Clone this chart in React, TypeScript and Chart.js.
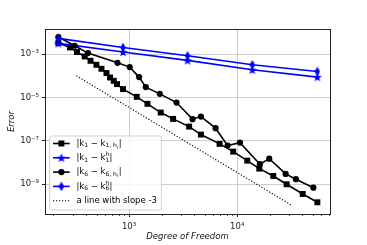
import React, { useEffect, useRef } from 'react';
import { Chart, registerables } from 'chart.js';

Chart.register(...registerables);

// ---------- data ----------
const dofK1 = [222, 284, 330, 389, 440, 499, 556, 618, 667, 722, 774, 880, 1178, 1479, 1963, 2553, 3594, 4616, 6870, 9180, 12380, 16000, 21550, 28630, 40330, 55100];
const errK1 = [3.22e-3, 2.02e-3, 1.24e-3, 7.75e-4, 4.91e-4, 3.21e-4, 2.1e-4, 1.33e-4, 8.32e-5, 5.86e-5, 4.13e-5, 2.43e-5, 1.07e-5, 5.09e-6, 2.02e-6, 1.03e-6, 4.56e-7, 1.95e-7, 7.26e-8, 3.2e-8, 1.23e-8, 5.26e-9, 2.42e-9, 1.0e-9, 3.57e-10, 1.48e-10];

const dofK6 = [222, 314, 417, 781, 1014, 1238, 1428, 1923, 2746, 3862, 4616, 6310, 8150, 10600, 16220, 19780, 28050, 34900, 50600];
const errK6 = [6.09e-3, 2.42e-3, 1.11e-3, 3.97e-4, 2.51e-4, 8.69e-5, 3.0e-5, 1.47e-5, 5.84e-6, 1.0e-6, 1.32e-6, 3.85e-7, 6.05e-8, 8.33e-8, 8.4e-9, 1.52e-8, 2.99e-9, 1.71e-9, 6.98e-10];

const dofH = [222, 880, 3470, 13800, 55100];
const errK1H = [3.1e-3, 1.24e-3, 5.1e-4, 1.88e-4, 8.7e-5];
const errK6H = [5.3e-3, 2.0e-3, 8.3e-4, 3.2e-4, 1.58e-4];

const slopeDof = [326, 31900];
const slopeErr = [1.0e-4, 1.07e-10];

const xMajorTicks = [1000, 10000];
const xTickLabels = ['10³', '10⁴'];
const xMinorTicks = [200, 300, 400, 500, 600, 700, 800, 900, 2000, 3000, 4000, 5000, 6000, 7000, 8000, 9000, 20000, 30000, 40000, 50000, 60000, 70000];
const yMajorTicks = [1e-3, 1e-5, 1e-7, 1e-9];
const yTickLabels = ['10⁻³', '10⁻⁵', '10⁻⁷', '10⁻⁹'];

const xMin = 167;
const xMax = 72100;
const yMin = 4.27e-11;
const yMax = 1.43e-2;

type Seg = [string, string];
const legendLabels: Seg[][] = [
  [['|k', 'n'], ['1', 'b'], [' − k', 'n'], ['1, h', 'b'], ['i', 'bb'], ['|', 'n']],
  [['|k', 'n'], ['1', 'b'], [' − k', 'n'], ['h|1', 'ps'], ['|', 'n']],
  [['|k', 'n'], ['6', 'b'], [' − k', 'n'], ['6, h', 'b'], ['i', 'bb'], ['|', 'n']],
  [['|k', 'n'], ['6', 'b'], [' − k', 'n'], ['h|6', 'ps'], ['|', 'n']],
  [['a line with slope -3', 'n']],
];

const FONT = '"DejaVu Sans", sans-serif';
const BLUE = '#0000ff';

function makeStar(color: string) {
  const c = document.createElement('canvas');
  c.width = 10; c.height = 10;
  const g = c.getContext('2d')!;
  g.fillStyle = color;
  g.beginPath();
  for (let i = 0; i < 10; i++) {
    const r = i % 2 === 0 ? 4.8 : 2.0;
    const a = -Math.PI / 2 + (i * Math.PI) / 5;
    const px = 5 + r * Math.cos(a);
    const py = 5.4 + r * Math.sin(a);
    if (i === 0) g.moveTo(px, py); else g.lineTo(px, py);
  }
  g.closePath();
  g.fill();
  return c;
}

function makeThinDiamond(color: string) {
  const c = document.createElement('canvas');
  c.width = 6; c.height = 10;
  const g = c.getContext('2d')!;
  g.fillStyle = color;
  g.beginPath();
  g.moveTo(3, 0.2);
  g.lineTo(5.8, 5);
  g.lineTo(3, 9.8);
  g.lineTo(0.2, 5);
  g.closePath();
  g.fill();
  return c;
}

function drawMath(ctx: CanvasRenderingContext2D, segs: Seg[], x: number, y: number) {
  const base = 8.5;
  const small = 6;
  const tiny = 4.6;
  ctx.fillStyle = '#000';
  ctx.textBaseline = 'middle';
  ctx.textAlign = 'left';
  let cx = x;
  for (const [t, k] of segs) {
    if (k === 'n') {
      ctx.font = `${base}px ${FONT}`;
      ctx.fillText(t, cx, y);
      cx += ctx.measureText(t).width;
    } else if (k === 'b') {
      ctx.font = `${small}px ${FONT}`;
      ctx.fillText(t, cx, y + 2.4);
      cx += ctx.measureText(t).width;
    } else if (k === 'bb') {
      ctx.font = `italic ${tiny}px ${FONT}`;
      ctx.fillText(t, cx, y + 4.0);
      cx += ctx.measureText(t).width + 0.5;
    } else if (k === 'ps') {
      const [sup, sub] = t.split('|');
      ctx.font = `italic ${small}px ${FONT}`;
      ctx.fillText(sup, cx, y - 3.2);
      const w1 = ctx.measureText(sup).width;
      ctx.font = `${small}px ${FONT}`;
      ctx.fillText(sub, cx, y + 2.4);
      const w2 = ctx.measureText(sub).width;
      cx += Math.max(w1, w2) + 0.3;
    }
  }
}

export default function App() {
  const ref = useRef<HTMLCanvasElement | null>(null);

  useEffect(() => {
    const canvas = ref.current;
    if (!canvas) return;
    const star = makeStar(BLUE);
    const diamond = makeThinDiamond(BLUE);

    const frame = {
      id: 'mplFrame',
      afterDatasetsDraw(chart: any) {
        const { ctx, chartArea: a } = chart;
        const lx = a.left + 4.7;
        const lb = a.bottom - 4;
        const lw = 111.7;
        const lh = 74;
        const ly = lb - lh;
        ctx.save();
        ctx.beginPath();
        const r = 2;
        ctx.moveTo(lx + r, ly);
        ctx.arcTo(lx + lw, ly, lx + lw, ly + lh, r);
        ctx.arcTo(lx + lw, ly + lh, lx, ly + lh, r);
        ctx.arcTo(lx, ly + lh, lx, ly, r);
        ctx.arcTo(lx, ly, lx + lw, ly, r);
        ctx.closePath();
        ctx.fillStyle = 'rgba(255,255,255,0.8)';
        ctx.fill();
        ctx.strokeStyle = 'rgba(204,204,204,0.9)';
        ctx.lineWidth = 1;
        ctx.stroke();

        const ds = chart.data.datasets;
        for (let i = 0; i < legendLabels.length; i++) {
          const ry = ly + 7.5 + i * 14.3;
          const d = ds[i];
          ctx.save();
          ctx.strokeStyle = d.borderColor;
          ctx.lineWidth = d.borderWidth;
          if (d.borderDash) ctx.setLineDash(d.borderDash);
          ctx.beginPath();
          ctx.moveTo(lx + 3.3, ry);
          ctx.lineTo(lx + 20, ry);
          ctx.stroke();
          ctx.restore();
          const mx = lx + 11.7;
          ctx.fillStyle = d.pointBackgroundColor || d.borderColor;
          if (d.pointStyle === 'rect') {
            const s = d.pointRadius * Math.SQRT1_2;
            ctx.fillRect(mx - s, ry - s, 2 * s, 2 * s);
          } else if (d.pointStyle === 'circle') {
            ctx.beginPath();
            ctx.arc(mx, ry, d.pointRadius, 0, Math.PI * 2);
            ctx.fill();
          } else if (d.pointStyle && typeof d.pointStyle === 'object') {
            const img = d.pointStyle as HTMLCanvasElement;
            ctx.drawImage(img, mx - img.width / 2, ry - img.height / 2);
          }
          drawMath(ctx, legendLabels[i], lx + 26.7, ry);
        }
        ctx.restore();
      },
      afterDraw(chart: any) {
        const { ctx, chartArea: a } = chart;
        const xs = chart.scales.x;
        ctx.save();
        ctx.strokeStyle = '#222';
        ctx.lineWidth = 0.8;
        for (const v of xMinorTicks) {
          const px = Math.round(xs.getPixelForValue(v)) + 0.5;
          ctx.beginPath();
          ctx.moveTo(px, a.bottom);
          ctx.lineTo(px, a.bottom + 2);
          ctx.stroke();
        }
        ctx.strokeStyle = '#262626';
        ctx.lineWidth = 1;
        ctx.strokeRect(Math.round(a.left) + 0.5, Math.round(a.top) + 0.5, Math.round(a.right - a.left), Math.round(a.bottom - a.top));
        ctx.restore();
      },
    };

    const toXY = (xs: number[], ys: number[]) => xs.map((x, i) => ({ x, y: ys[i] }));

    const chart = new Chart(canvas, {
      type: 'line',
      data: {
        datasets: [
          {
            label: 'k1',
            data: toXY(dofK1, errK1),
            borderColor: '#000',
            backgroundColor: '#000',
            pointBackgroundColor: '#000',
            pointBorderColor: '#000',
            borderWidth: 1.6,
            pointStyle: 'rect',
            pointRadius: 4.2,
            pointBorderWidth: 0,
            order: 5,
          },
          {
            label: 'k1h',
            data: toXY(dofH, errK1H),
            borderColor: BLUE,
            backgroundColor: BLUE,
            borderWidth: 1.6,
            pointStyle: star as any,
            pointRadius: 4,
            order: 4,
          },
          {
            label: 'k6',
            data: toXY(dofK6, errK6),
            borderColor: '#000',
            backgroundColor: '#000',
            pointBackgroundColor: '#000',
            pointBorderColor: '#000',
            borderWidth: 1.6,
            pointStyle: 'circle',
            pointRadius: 3.1,
            pointBorderWidth: 0,
            order: 3,
          },
          {
            label: 'k6h',
            data: toXY(dofH, errK6H),
            borderColor: BLUE,
            backgroundColor: BLUE,
            borderWidth: 1.6,
            pointStyle: diamond as any,
            pointRadius: 4,
            order: 2,
          },
          {
            label: 'slope',
            data: toXY(slopeDof, slopeErr),
            borderColor: '#000',
            backgroundColor: '#000',
            borderWidth: 1.1,
            borderDash: [1.2, 1.8],
            pointRadius: 0,
            order: 1,
          },
        ] as any,
      },
      options: {
        responsive: false,
        animation: false,
        events: [],
        layout: { padding: { left: 0, top: 29, right: 37, bottom: 0 } },
        plugins: { legend: { display: false }, tooltip: { enabled: false } },
        elements: { line: { tension: 0 } },
        scales: {
          x: {
            type: 'logarithmic',
            position: 'bottom',
            min: xMin,
            max: xMax,
            bounds: 'data',
            afterBuildTicks: (s: any) => {
              s.ticks = xMajorTicks.map((v) => ({ value: v }));
            },
            afterFit: (s: any) => {
              s.height = 31;
            },
            ticks: {
              autoSkip: false,
              maxRotation: 0,
              padding: 5,
              color: '#222',
              font: { family: FONT, size: 8.5 },
              callback: (v: any) => xTickLabels[xMajorTicks.indexOf(Number(v))] ?? '',
            },
            grid: { color: '#cccccc', lineWidth: 1, tickColor: '#222', tickLength: 3 },
            border: { display: false },
            title: {
              display: true,
              text: 'Degree of Freedom',
              color: '#111',
              font: { family: FONT, size: 8.5, style: 'italic' },
              padding: { top: 0, bottom: 3 },
            },
          },
          y: {
            type: 'logarithmic',
            position: 'left',
            min: yMin,
            max: yMax,
            bounds: 'data',
            afterBuildTicks: (s: any) => {
              s.ticks = yMajorTicks.map((v) => ({ value: v }));
            },
            afterFit: (s: any) => {
              s.width = 45;
            },
            ticks: {
              autoSkip: false,
              padding: 3,
              color: '#222',
              font: { family: FONT, size: 8.5 },
              callback: (v: any) => {
                const i = yMajorTicks.findIndex((t) => Math.abs(Math.log10(t) - Math.log10(Number(v))) < 1e-6);
                return i >= 0 ? yTickLabels[i] : '';
              },
            },
            grid: { color: '#cccccc', lineWidth: 1, tickColor: '#222', tickLength: 3 },
            border: { display: false },
            title: {
              display: true,
              text: 'Error',
              color: '#111',
              font: { family: FONT, size: 8.5, style: 'italic' },
              padding: { top: 6.5, bottom: 0 },
            },
          },
        },
      } as any,
      plugins: [frame],
    });

    return () => chart.destroy();
  }, []);

  return (
    <div style={{ position: 'fixed', left: 0, top: 0, width: 367, height: 245, background: '#fff' }}>
      <canvas ref={ref} width={367} height={245} style={{ display: 'block', width: 367, height: 245 }} />
    </div>
  );
}
